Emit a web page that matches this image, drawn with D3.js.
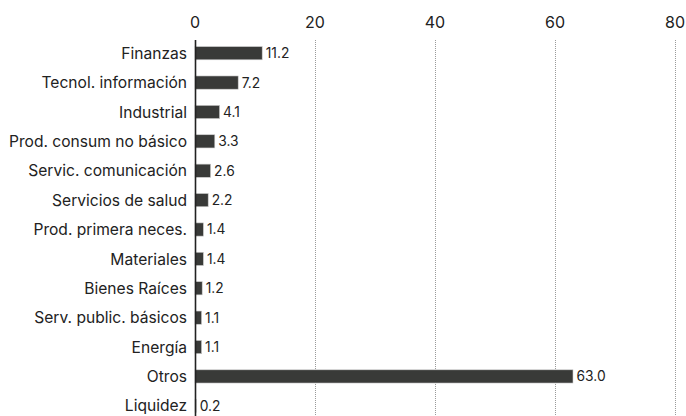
<!DOCTYPE html>
<html><head><meta charset="utf-8">
<script src="https://cdn.jsdelivr.net/npm/d3@7"></script>
<style>body{margin:0;background:#fff;} svg{display:block;font-family:Inter, "Liberation Sans", sans-serif;}</style>
</head><body><svg id="c" width="686" height="416"></svg>
<script>
const categories = ["Finanzas","Tecnol. información","Industrial","Prod. consum no básico","Servic. comunicación","Servicios de salud","Prod. primera neces.","Materiales","Bienes Raíces","Serv. public. básicos","Energía","Otros","Liquidez"];
const values = [11.2,7.2,4.1,3.3,2.6,2.2,1.4,1.4,1.2,1.1,1.1,63.0,0.2];
const tickValues = [0,20,40,60,80];

const svg = d3.select("#c");
const x = d3.scaleLinear().domain([0,80]).range([195,675]);
const y = d3.scaleBand().domain(categories).range([38.5,420.5]).paddingInner(0.55).paddingOuter(0.275);

// grid
svg.append("g").selectAll("line").data(tickValues.filter(d=>d>0)).join("line")
  .attr("x1",d=>Math.round(x(d))+0.5).attr("x2",d=>Math.round(x(d))+0.5)
  .attr("y1",40).attr("y2",416)
  .attr("stroke","#9a9a9a").attr("stroke-width",1).attr("stroke-dasharray","1,1");

// top tick labels
svg.append("g").selectAll("text").data(tickValues).join("text")
  .attr("x",d=>x(d)).attr("y",28).attr("text-anchor","middle")
  .attr("font-size",16).attr("fill","#222").text(d=>d);

// bars
svg.append("g").selectAll("rect").data(values).join("rect")
  .attr("x",x(0)).attr("y",(d,i)=>y(categories[i]))
  .attr("width",d=>x(d)-x(0)).attr("height",y.bandwidth())
  .attr("fill","#393a38").attr("stroke","#cfcfcf").attr("stroke-width",0.6);

// value labels
svg.append("g").selectAll("text").data(values).join("text")
  .attr("x",d=>x(d)+3.5).attr("y",(d,i)=>y(categories[i])+y.bandwidth()/2)
  .attr("dy","0.36em").attr("font-size",13.8).attr("fill","#222")
  .text(d=>d.toFixed(1));

// category labels
svg.append("g").selectAll("text").data(categories).join("text")
  .attr("x",187).attr("y",d=>y(d)+y.bandwidth()/2).attr("dy","0.36em")
  .attr("text-anchor","end").attr("font-size",15.6).attr("fill","#222").text(d=>d);

// axis line
svg.append("line").attr("x1",x(0)+0.5).attr("x2",x(0)+0.5).attr("y1",40).attr("y2",416)
  .attr("stroke","#222").attr("stroke-width",1.6);
</script></body></html>
